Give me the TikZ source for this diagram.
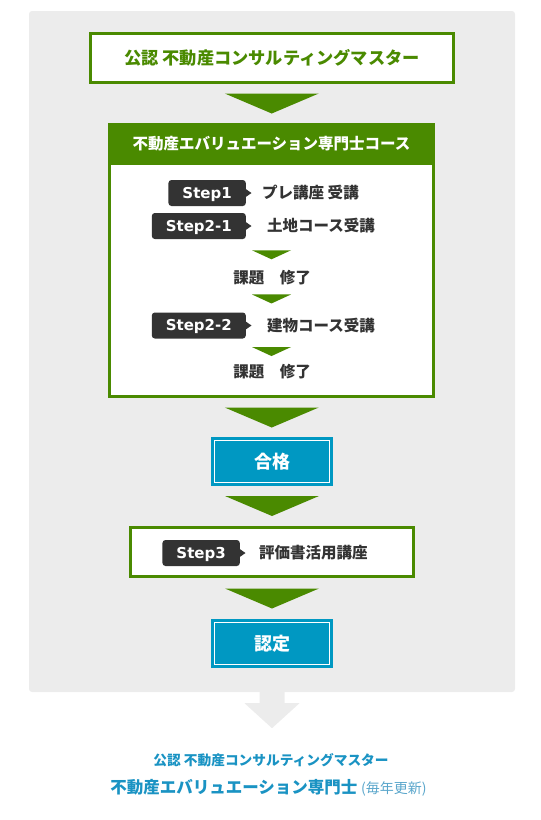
\documentclass[tikz,border=0pt]{standalone}
\usepackage{fontspec}
\setmainfont{Noto Sans CJK JP}
\newfontfamily\stepfont{DejaVu Sans}
\usetikzlibrary{positioning, calc}

\definecolor{leaf}{HTML}{4A8A00}
\definecolor{sea}{HTML}{0098C2}
\definecolor{seatext}{HTML}{1A93C3}
\definecolor{mist}{HTML}{5AA6CB}
\definecolor{ink}{HTML}{333333}
\definecolor{panelgray}{HTML}{ECECEC}

\newcommand{\px}[1]{\fontsize{#1pt}{#1pt}\selectfont}

\begin{document}
\begin{tikzpicture}[x=1pt, y=-1pt, font=\bfseries]
  \tikzset{
    panel/.style={
      fill=panelgray,
      rounded corners=3pt,
      minimum width=486pt,
      minimum height=681pt},
    frame/.style={
      draw=leaf,
      line width=3pt,
      fill=white,
      inner sep=0pt},
    head/.style={
      fill=leaf,
      text=white,
      font=\bfseries\px{15.5},
      minimum width=327pt,
      minimum height=42pt,
      outer sep=0pt,
      anchor=north},
    stepbox/.style={
      fill=ink,
      rounded corners=3pt,
      text=white,
      font=\stepfont\bfseries\px{15},
      text height=12pt,
      text depth=1.5pt,
      minimum height=26pt,
      inner xsep=14pt,
      anchor=east},
    lbl/.style={
      text=ink,
      font=\bfseries\px{15.5},
      inner sep=0pt},
    goal/.style={
      fill=sea,
      draw=white,
      line width=1pt,
      preaction={draw=sea, line width=7pt},
      minimum width=115pt,
      minimum height=42pt,
      outer sep=3.5pt,
      text=white,
      font=\bfseries\px{18}}}

  \useasboundingbox (0,0) rectangle (541,820);
  \node[panel] (panel) at (272,351.5) {};

  \node[frame, minimum width=363pt, minimum height=49pt, text=leaf,
    font=\bfseries\px{17.2}] (top) at (272,58) {公認 不動産コンサルティングマスター};

  \node[frame, minimum width=324pt, minimum height=272pt] (course) at (271.5,260.5) {};
  \node[head] (head) at (course.north) {不動産エバリュエーション専門士コース};

  \node[stepbox] (s1) at (246,193) {Step1};
  \node[lbl] (s1txt) [right=16pt of s1] {プレ講座 受講};
  \node[stepbox] (s21) at (246,226) {Step2-1};
  \node[lbl] (s21txt) [right=21pt of s21] {土地コース受講};
  \node[lbl] (task1) at (272,278) {課題　修了};
  \node[stepbox] (s22) at (246,325.5) {Step2-2};
  \node[lbl] (s22txt) [right=21pt of s22] {建物コース受講};
  \node[lbl] (task2) at (272,372) {課題　修了};

  \node[goal] (pass) at (272,461.5) {合格};

  \node[frame, minimum width=283pt, minimum height=49pt] (step3) at (272,552) {};
  \node[stepbox] (s3) at (240,553) {Step3};
  \node[lbl] (s3txt) [right=19pt of s3] {評価書活用講座};

  \node[goal] (cert) at (272,643.5) {認定};

  % pointers on the step badges
  \foreach \s in {s1, s21, s22, s3}
    \fill[ink] (\s.east) +(-1,-4.5) -- +(5.5,0) -- +(-1,4.5) -- cycle;

  % small arrows inside the course
  \foreach \a/\b in {s21/task1, task1/s22, s22/task2}
    \fill[leaf] ($(course.north |- \a.south)!.5!(course.north |- \b.north)$)
      +(-19.5,-4.5) -- +(19.5,-4.5) -- +(0,4.5) -- cycle;

  % big arrows between the stages
  \foreach \a/\b in {top/course, course/pass, pass/step3, step3/cert}
    \fill[leaf] ($(\a.south)!.5!(\b.north)$) +(-47,-10) -- +(47,-10) -- +(0,10) -- cycle;

  % arrow out of the panel
  \fill[panelgray] (panel.south) +(-12.5,-1) -- +(12.5,-1) -- +(12.5,11) -- +(27.5,11)
    -- +(0,36) -- +(-27.5,11) -- +(-12.5,11) -- cycle;

  \node[text=seatext, font=\bfseries\px{13.7}] (master) at (271,760)
    {公認 不動産コンサルティングマスター};
  \node[text=seatext, font=\bfseries\px{16.5}] (title) at (268.5,788)
    {不動産エバリュエーション専門士 {\mdseries\px{14}\color{mist}(毎年更新)}};

\end{tikzpicture}
\end{document}
